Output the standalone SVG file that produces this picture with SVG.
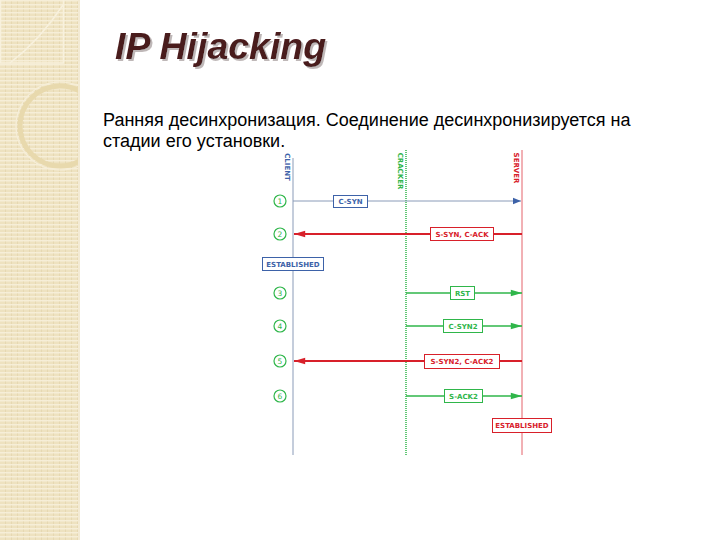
<svg xmlns="http://www.w3.org/2000/svg" width="720" height="540" viewBox="0 0 720 540">
<defs>
<pattern id="stripes" x="0" y="0" width="6" height="4" patternUnits="userSpaceOnUse">
<rect width="6" height="4" fill="#eee2c0"/>
<rect y="0" width="6" height="1.5" fill="#f6eed8"/>
<rect x="5" y="1.5" width="1" height="2.5" fill="#e6d8b2"/>
</pattern>
<clipPath id="panelClip"><rect x="0" y="0" width="78" height="540"/></clipPath>
<filter id="shadow" x="-5%" y="-20%" width="115%" height="150%"><feDropShadow dx="2" dy="2" stdDeviation="0.6" flood-color="#b8b0b0" flood-opacity="0.9"/></filter>
<marker id="ahBlue" viewBox="0 0 10 10" refX="10" refY="5" markerWidth="10" markerHeight="8" markerUnits="userSpaceOnUse" orient="auto"><path d="M0,1 L10,5 L0,9 Z" fill="#3d62a8"/></marker>
<marker id="ahRed" viewBox="0 0 14 10" refX="14" refY="5" markerWidth="14" markerHeight="8" markerUnits="userSpaceOnUse" orient="auto"><path d="M0,1 L14,5 L0,9 Z" fill="#d8202a"/></marker>
<marker id="ahGreen" viewBox="0 0 14 10" refX="14" refY="5" markerWidth="14" markerHeight="8" markerUnits="userSpaceOnUse" orient="auto"><path d="M0,1 L14,5 L0,9 Z" fill="#2fb64a"/></marker>
</defs>
<style>
.lbl{font-family:"DejaVu Sans","Liberation Sans",sans-serif;font-size:7px;font-weight:bold;text-anchor:middle}
.blue{fill:#3d62a8}.red{fill:#d8202a}.green{fill:#2fb64a}
.box{fill:#ffffff;stroke-width:1}
.num{font-family:"DejaVu Sans",sans-serif;font-size:7.5px;fill:#2fb64a;text-anchor:middle}
.circ{fill:#ffffff;stroke:#2fb64a;stroke-width:1.2}
</style>
<rect width="720" height="540" fill="#ffffff"/>
<g id="panel">
<rect x="0" y="0" width="78" height="540" fill="url(#stripes)"/>
<rect x="78" y="0" width="2" height="540" fill="#f3ead3"/>
<g clip-path="url(#panelClip)">
<rect x="0.5" y="-1" width="63" height="64" fill="none" stroke="#f8f1dd" stroke-width="1.5"/>
<path d="M10,63 Q40,40 63,5" fill="none" stroke="#f8f1dd" stroke-width="1.5"/>
<circle cx="60" cy="126" r="40" fill="none" stroke="#e8d9ad" stroke-width="5"/>
<circle cx="60" cy="126" r="44" fill="none" stroke="#f6eed8" stroke-width="1.2"/>
</g>
</g>
<g id="title">
<text x="115" y="59" font-family="Liberation Sans, Arial, sans-serif" font-size="37.5" font-weight="bold" font-style="italic" fill="#4a1a1c" filter="url(#shadow)">IP Hijacking</text>
</g>
<g id="body">
<text font-family="Liberation Sans, Arial, sans-serif" font-size="18" fill="#000000"><tspan x="103" y="126">Ранняя десинхронизация. Соединение десинхронизируется на</tspan><tspan x="103" y="147">стадии его установки.</tspan></text>
</g>
<g id="client">
<line x1="293" y1="158" x2="293" y2="455" stroke="#8a9bb8" stroke-width="1"/>
<text class="lbl blue" transform="translate(285,167) rotate(90)">CLIENT</text>
</g>
<g id="cracker">
<line x1="406" y1="150" x2="406" y2="455" stroke="#2fb64a" stroke-width="1.5" stroke-dasharray="1,1"/>
<text class="lbl green" transform="translate(398,171) rotate(90)">CRACKER</text>
</g>
<g id="server">
<line x1="522" y1="150" x2="522" y2="455" stroke="#d8202a" stroke-width="1" opacity="0.7"/>
<text class="lbl red" transform="translate(514,168) rotate(90)">SERVER</text>
</g>
<g id="connectors">
<line x1="293" y1="201" x2="521" y2="201" stroke="#8a9bb8" stroke-width="1" marker-end="url(#ahBlue)"/>
<line x1="522" y1="234" x2="294" y2="234" stroke="#d8202a" stroke-width="2" marker-end="url(#ahRed)"/>
<line x1="406" y1="293" x2="522" y2="293" stroke="#2fb64a" stroke-width="1.5" marker-end="url(#ahGreen)"/>
<line x1="406" y1="326" x2="522" y2="326" stroke="#2fb64a" stroke-width="1.5" marker-end="url(#ahGreen)"/>
<line x1="522" y1="361" x2="294" y2="361" stroke="#d8202a" stroke-width="2" marker-end="url(#ahRed)"/>
<line x1="406" y1="396" x2="522" y2="396" stroke="#2fb64a" stroke-width="1.5" marker-end="url(#ahGreen)"/>
</g>
<g id="steps">
<g id="s1"><circle class="circ" cx="280" cy="201" r="6"/><text class="num" x="280" y="203.7">1</text></g>
<g id="s2"><circle class="circ" cx="280" cy="234" r="6"/><text class="num" x="280" y="236.7">2</text></g>
<g id="s3"><circle class="circ" cx="280" cy="293" r="6"/><text class="num" x="280" y="295.7">3</text></g>
<g id="s4"><circle class="circ" cx="280" cy="326" r="6"/><text class="num" x="280" y="328.7">4</text></g>
<g id="s5"><circle class="circ" cx="280" cy="361" r="6"/><text class="num" x="280" y="363.7">5</text></g>
<g id="s6"><circle class="circ" cx="280" cy="396" r="6"/><text class="num" x="280" y="398.7">6</text></g>
</g>
<g id="labels">
<g id="l-csyn"><rect class="box" x="333.5" y="195.5" width="34" height="12" stroke="#3d62a8"/><text class="lbl blue" x="350.5" y="204">C-SYN</text></g>
<g id="l-synack"><rect class="box" x="430.5" y="227.5" width="63" height="13" stroke="#d8202a"/><text class="lbl red" x="462" y="236.5">S-SYN, C-ACK</text></g>
<g id="l-est-client"><rect class="box" x="262.5" y="257.5" width="61" height="13" stroke="#3d62a8"/><text class="lbl blue" x="293" y="266.5">ESTABLISHED</text></g>
<g id="l-rst"><rect class="box" x="450.5" y="286.5" width="24" height="13" stroke="#2fb64a"/><text class="lbl green" x="462.5" y="295.5">RST</text></g>
<g id="l-csyn2"><rect class="box" x="443.5" y="319.5" width="39" height="13" stroke="#2fb64a"/><text class="lbl green" x="463" y="328.5">C-SYN2</text></g>
<g id="l-synack2"><rect class="box" x="424.5" y="354.5" width="75" height="14" stroke="#d8202a"/><text class="lbl red" x="462" y="364">S-SYN2, C-ACK2</text></g>
<g id="l-sack2"><rect class="box" x="444.5" y="389.5" width="38" height="13" stroke="#2fb64a"/><text class="lbl green" x="463.5" y="398.5">S-ACK2</text></g>
<g id="l-est-server"><rect class="box" x="492.5" y="418.5" width="59" height="14" stroke="#d8202a"/><text class="lbl red" x="522" y="428">ESTABLISHED</text></g>
</g>
</svg>
